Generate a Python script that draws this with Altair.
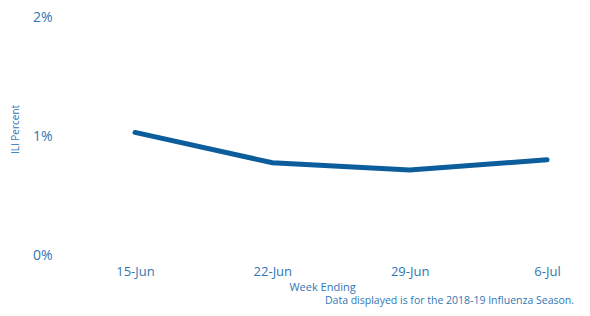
import altair as alt
import pandas as pd

weeks = ["15-Jun", "22-Jun", "29-Jun", "6-Jul"]
ili = [0.0103, 0.00775, 0.00715, 0.0080]

df = pd.DataFrame({"week": weeks, "ili": ili})

FONT = "Open Sans"
LABEL = "#2f77b5"

line = alt.Chart(df).mark_line(color="#0b5d9b", strokeWidth=5, strokeCap="round").encode(
    x=alt.X("week:N", sort=weeks,
            scale=alt.Scale(type="point", range=[75, 487], padding=0),
            axis=alt.Axis(title="Week Ending", labelAngle=0, labelFontSize=13,
                          labelColor=LABEL, labelFont=FONT, labelPadding=10,
                          titleFont=FONT, titleFontSize=11, titleFontWeight="normal",
                          titleColor=LABEL, titlePadding=3, ticks=False, domain=False,
                          grid=False, titleX=262)),
    y=alt.Y("ili:Q", scale=alt.Scale(domain=[0, 0.02]),
            axis=alt.Axis(title="ILI Percent", format=".0%", values=[0, 0.01, 0.02],
                          labelFontSize=14, labelColor=LABEL, labelFont=FONT,
                          labelPadding=8, titleFont=FONT, titleFontSize=10,
                          titleFontWeight="normal", titleColor=LABEL, titlePadding=12,
                          titleY=112, ticks=False, domain=False, grid=False)),
)

note = alt.Chart(pd.DataFrame({"t": ["Data displayed is for the 2018-19  Influenza Season."]})).mark_text(
    align="right", baseline="middle", font=FONT, fontSize=10.5, color=LABEL
).encode(text="t:N", x=alt.value(514), y=alt.value(284))

chart = alt.layer(line, note).properties(
    width=514, height=238,
    autosize=alt.AutoSizeParams(type="none"),
    padding={"left": 52, "top": 9, "right": 0, "bottom": 53},
).configure_view(stroke=None)

chart.save("out.html", embed_options={"renderer": "svg", "actions": False})
